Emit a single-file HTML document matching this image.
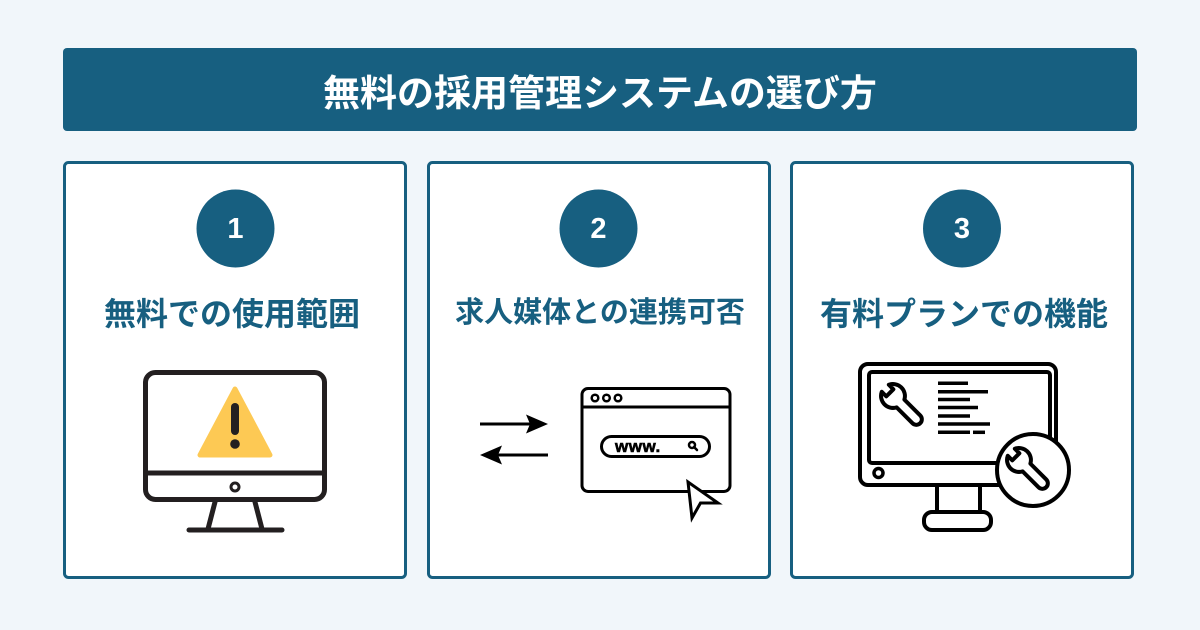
<!DOCTYPE html>
<html><head><meta charset="utf-8">
<style>
html,body{margin:0;padding:0;background:#f1f6fa;}
body{width:1200px;height:630px;overflow:hidden;}
svg{display:block;}
</style></head>
<body>
<svg width="1200" height="630" viewBox="0 0 1200 630" xmlns="http://www.w3.org/2000/svg">
  <defs>
    <path id="wr" d="M 10.6 -5.5 A 12 12 0 0 0 -10.9 -5 L -4.5 -5 L -4.5 5 L -10.9 5 A 12 12 0 0 0 10.6 5.5 L 33 5.5 A 5.5 5.5 0 0 0 33 -5.5 Z"/>
  </defs>
  <rect x="0" y="0" width="1200" height="630" fill="#f1f6fa"/>
  <!-- header -->
  <rect x="63" y="48" width="1074" height="83" rx="4" fill="#175f80"/>
  <text x="600" y="106" text-anchor="middle" font-family="'Liberation Sans','Noto Sans CJK JP',sans-serif" font-weight="700" font-size="37" fill="#ffffff">無料の採用管理システムの選び方</text>

  <!-- cards -->
  <rect x="64.5" y="162.5" width="341" height="415" rx="4" fill="#ffffff" stroke="#175f80" stroke-width="3"/>
  <rect x="428.5" y="162.5" width="341" height="415" rx="4" fill="#ffffff" stroke="#175f80" stroke-width="3"/>
  <rect x="791.5" y="162.5" width="341" height="415" rx="4" fill="#ffffff" stroke="#175f80" stroke-width="3"/>

  <!-- number circles -->
  <circle cx="235.5" cy="228.5" r="39" fill="#175f80"/>
  <circle cx="598.5" cy="228.5" r="39" fill="#175f80"/>
  <circle cx="962" cy="228.5" r="39" fill="#175f80"/>
  <g font-family="'Liberation Sans',sans-serif" font-weight="700" font-size="29" fill="#ffffff" text-anchor="middle">
    <text x="235.5" y="238">1</text>
    <text x="598.5" y="238">2</text>
    <text x="962" y="238">3</text>
  </g>

  <!-- labels -->
  <g font-family="'Liberation Sans','Noto Sans CJK JP',sans-serif" font-weight="700" fill="#175f80" text-anchor="middle">
    <text x="232" y="325" font-size="32">無料での使用範囲</text>
    <text x="600" y="322" font-size="29">求人媒体との連携可否</text>
    <text x="964" y="325" font-size="32">有料プランでの機能</text>
  </g>

  <!-- icon 1 : monitor with warning -->
  <g stroke="#231f20" fill="none" stroke-linecap="round">
    <rect x="145.5" y="372.5" width="179" height="127" rx="10" fill="#ffffff" stroke-width="5"/>
    <line x1="145.5" y1="473" x2="324.5" y2="473" stroke-width="5"/>
    <circle cx="235" cy="487" r="4" stroke-width="3"/>
    <line x1="215" y1="502" x2="208" y2="529" stroke-width="5"/>
    <line x1="255" y1="502" x2="262" y2="529" stroke-width="5"/>
    <line x1="189" y1="530" x2="282" y2="530" stroke-width="5"/>
  </g>
  <path d="M235 389 L200 455 L270 455 Z" fill="#fdc954" stroke="#fdc954" stroke-width="5" stroke-linejoin="round"/>
  <line x1="235" y1="407" x2="235" y2="431" stroke="#231f20" stroke-width="8" stroke-linecap="round"/>
  <circle cx="235" cy="444" r="4.8" fill="#231f20"/>

  <!-- icon 2 : arrows + browser -->
  <g stroke="#000" fill="none">
    <line x1="480" y1="424" x2="530" y2="424" stroke-width="3"/>
    <line x1="498" y1="455" x2="548" y2="455" stroke-width="3"/>
  </g>
  <path d="M548 424 L526 414.5 L530 424 L526 433.5 Z" fill="#000"/>
  <path d="M480 455 L502 445.5 L498 455 L502 464.5 Z" fill="#000"/>
  <rect x="582" y="388.5" width="148" height="103" rx="6" fill="#ffffff" stroke="#000" stroke-width="3"/>
  <line x1="582" y1="407" x2="730" y2="407" stroke="#000" stroke-width="3"/>
  <g fill="none" stroke="#000" stroke-width="2.5">
    <circle cx="595" cy="398" r="3.3"/>
    <circle cx="606.5" cy="398" r="3.3"/>
    <circle cx="618" cy="398" r="3.3"/>
  </g>
  <rect x="601.5" y="436.5" width="108" height="20" rx="10" fill="#ffffff" stroke="#000" stroke-width="3"/>
  <text x="615" y="452" font-family="'Liberation Sans',sans-serif" font-weight="700" font-size="17" fill="#000" stroke="#000" stroke-width="0.6" letter-spacing="0.5">www.</text>
  <circle cx="692" cy="445" r="3" fill="none" stroke="#000" stroke-width="2.5"/>
  <line x1="694" y1="447" x2="697" y2="450" stroke="#000" stroke-width="2.5" stroke-linecap="round"/>
  <path d="M688 482 L692 518 L700.5 503 L718 503 Z" fill="#ffffff" stroke="#000" stroke-width="3" stroke-linejoin="miter"/>

  <!-- icon 3 : monitor with wrenches -->
  <g stroke="#000" fill="none" stroke-width="4">
    <rect x="860" y="364" width="196" height="121" rx="8" fill="#ffffff"/>
    <rect x="869" y="372" width="181" height="91" rx="3"/>
    <circle cx="878.5" cy="473" r="4.5" stroke-width="3.5"/>
    <line x1="937" y1="487" x2="937" y2="512"/>
    <line x1="980" y1="487" x2="980" y2="512"/>
    <rect x="924" y="512" width="67" height="18" rx="8" fill="#ffffff"/>
  </g>
  <g stroke="#000" stroke-width="3.5">
    <line x1="938" y1="383.3" x2="968" y2="383.3"/>
    <line x1="938" y1="391.7" x2="988" y2="391.7"/>
    <line x1="938" y1="399.5" x2="970" y2="399.5"/>
    <line x1="938" y1="407.5" x2="978" y2="407.5"/>
    <line x1="938" y1="416" x2="970" y2="416"/>
    <line x1="938" y1="424" x2="990" y2="424"/>
    <line x1="938" y1="432.3" x2="970" y2="432.3"/>
    <line x1="973" y1="432.3" x2="985" y2="432.3"/>
  </g>
  <use href="#wr" transform="translate(893,396) rotate(45)" fill="#ffffff" stroke="#000" stroke-width="4" stroke-linejoin="round"/>
  <circle cx="1033" cy="470" r="36" fill="#ffffff" stroke="#000" stroke-width="4"/>
  <use href="#wr" transform="translate(1019,460) rotate(45)" fill="#ffffff" stroke="#000" stroke-width="4" stroke-linejoin="round"/>
</svg>
</body></html>
